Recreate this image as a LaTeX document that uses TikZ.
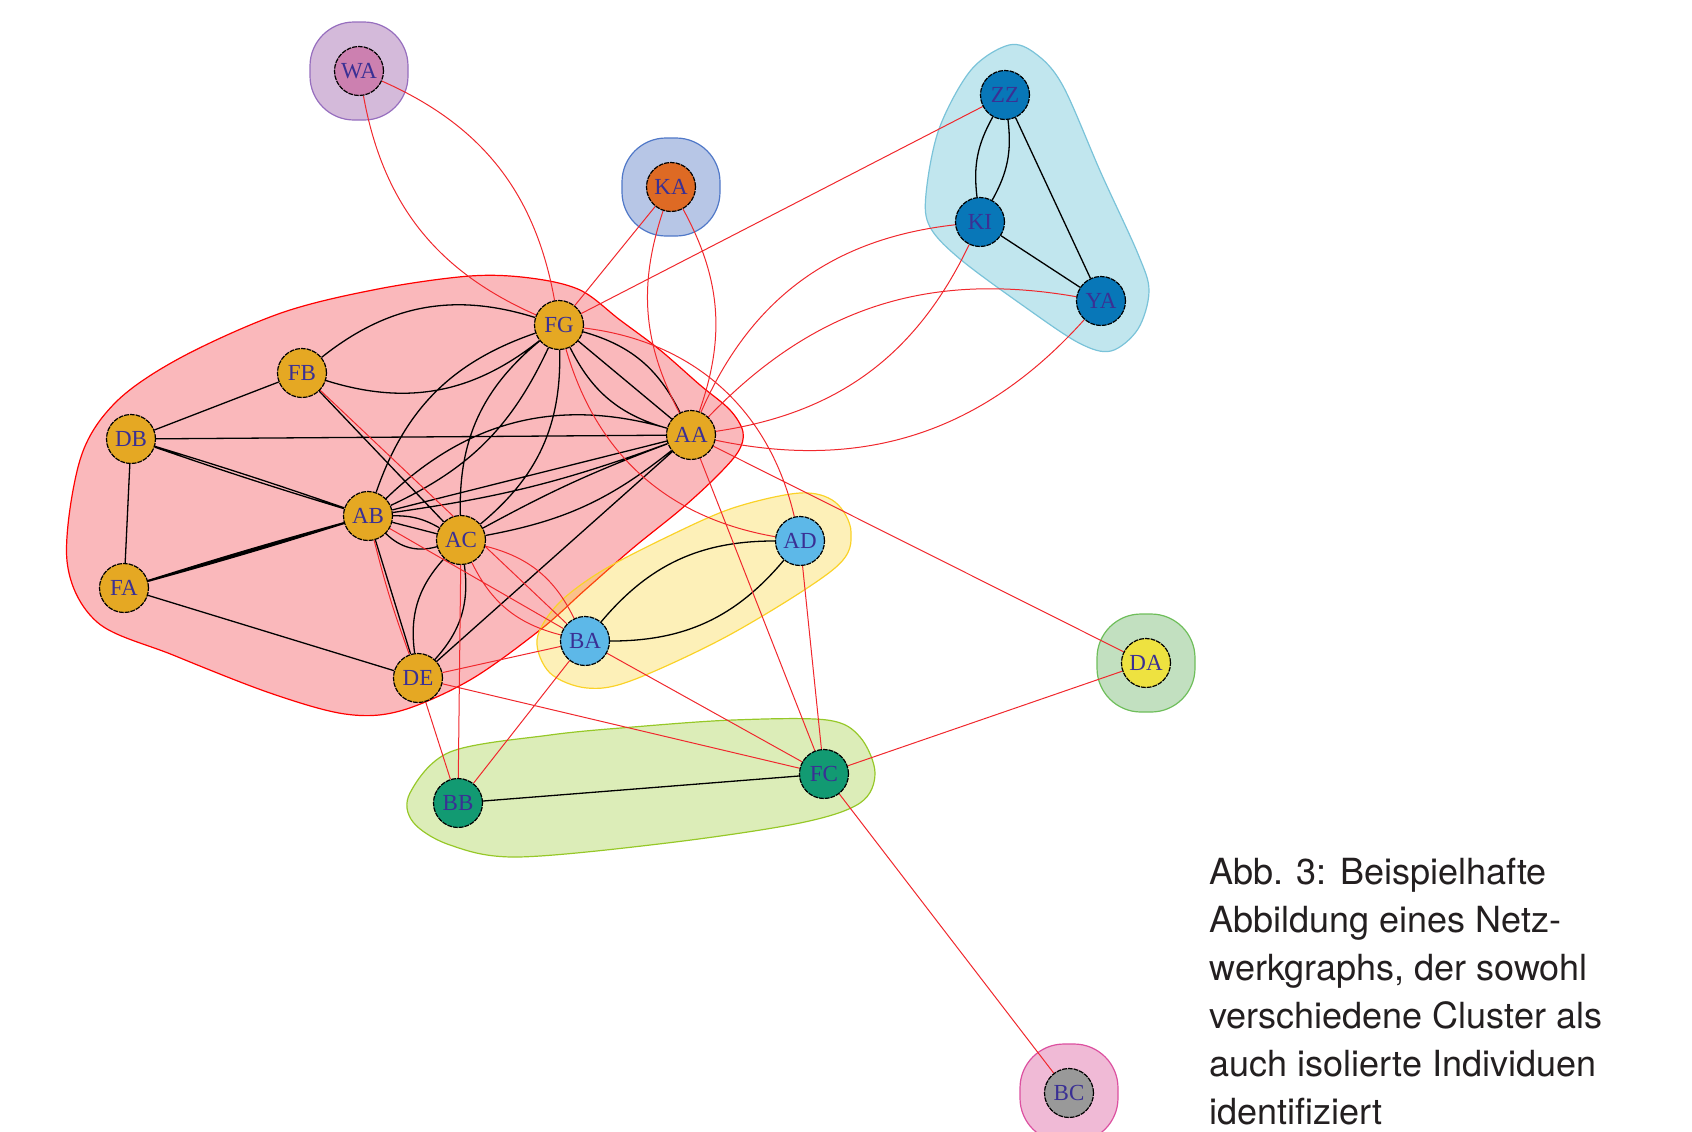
\documentclass[tikz,border=0pt]{standalone}
\usepackage{fontspec}
\setmainfont{Liberation Serif}
\newfontfamily\capfont{TeX Gyre Heros}
\usetikzlibrary{backgrounds}
\definecolor{gold}{RGB}{229,168,35}
\definecolor{sky}{RGB}{93,184,232}
\definecolor{teal}{RGB}{18,154,114}
\definecolor{navy}{RGB}{8,119,184}
\definecolor{wapink}{RGB}{204,128,176}
\definecolor{kaorange}{RGB}{222,106,36}
\definecolor{dayellow}{RGB}{238,226,64}
\definecolor{bcgray}{RGB}{153,153,153}
\definecolor{lbl}{RGB}{58,48,148}
\definecolor{netred}{RGB}{240,40,45}
\definecolor{hullred}{RGB}{240,40,50}
\definecolor{hullyel}{RGB}{250,210,40}
\definecolor{hullgrn}{RGB}{150,200,40}
\definecolor{hullcyan}{RGB}{193,230,238}
\definecolor{captxt}{RGB}{35,31,32}
\begin{document}
\begin{tikzpicture}[x=.5pt,y=-.5pt,
	pers/.style={circle,draw=black,line width=.6pt,dash pattern=on 2.4pt off .5pt,minimum size=24.5pt,inner sep=0pt,font=\fontsize{11.5}{12}\selectfont,text=lbl},
	tie/.style={black,line width=.65pt},
	link/.style={netred,line width=.5pt},
	halo/.style={line width=.6pt,rounded corners=22pt},
	hull/.style={line width=.6pt,fill opacity=.33}]
	\useasboundingbox (0,0) rectangle (1692,1131);
	\foreach \n/\x/\y/\c in {WA/359/71/wapink,KA/671/187/kaorange,ZZ/1005/95/navy,KI/980/222/navy,YA/1101/301/navy,
		FG/559/325/gold,FB/302/373/gold,DB/131/439/gold,AA/691/435/gold,AB/368/516/gold,AC/461/540/gold,FA/124/588/gold,DE/418/678/gold,
		AD/800/541/sky,BA/585/641/sky,DA/1146/663/dayellow,FC/824/774/teal,BB/458/803/teal,BC/1069/1093/bcgray}
		\node[pers,fill=\c] (\n) at (\x,\y) {\n};%Personen
	\begin{scope}[on background layer]
		\draw[hull,draw=red,fill=hullred] plot[smooth cycle,tension=.55] coordinates {(67,561) (80,460) (115,403) (180,358) (281,313) (378,289) (470,276) (530,278) (580,290) (620,320) (660,350) (700,385) (730,410) (743,432) (738,452) (715,478) (680,510) (633,548) (585,590) (540,630) (470,680) (400,711) (345,714) (270,693) (173,655) (97,622)};%Cluster rot
		\draw[hull,draw=hullyel,fill=hullyel] plot[smooth cycle,tension=.55] coordinates {(537,640) (557,605) (600,572) (667,537) (733,508) (800,493) (835,502) (851,532) (835,568) (733,633) (633,680) (587,688) (550,673)};%Cluster gelb
		\draw[hull,draw=hullgrn,fill=hullgrn] plot[smooth cycle,tension=.55] coordinates {(410,793) (450,752) (550,735) (633,727) (733,720) (827,720) (860,737) (875,773) (860,803) (800,823) (667,843) (517,857) (450,845) (413,822)};%Cluster gruen
		\draw[line width=.6pt,draw=cyan!55!teal!60,fill=hullcyan] plot[smooth cycle,tension=.55] coordinates {(1009,45) (971,70) (939,129) (926,194) (930,227) (960,259) (1025,307) (1079,343) (1111,351) (1138,329) (1149,291) (1138,254) (1101,173) (1063,86) (1036,54)};%Cluster blau
		\foreach \n/\f/\d in {WA/{212,186,218}/{150,110,190},KA/{183,198,230}/{80,120,200},DA/{194,224,192}/{110,190,90},BC/{240,186,214}/{220,80,160}}{
			\definecolor{hf}{RGB}{\f}\definecolor{hd}{RGB}{\d}
			\draw[halo,fill=hf,draw=hd] (\n.center) +(-49,-49) rectangle +(49,49);}%Einzelne
		% schwarze Kanten
		\draw[tie] (FB)--(DB) (DB)--(FA) (DB)--(AA) (FA)--(DE) (FB)--(AC) (AA)--(DE) (AB)--(DE) (BB)--(FC)
		(DB) to[bend left=1] (AB) (DB) to[bend right=1] (AB)
		(FA) to[bend left=1] (AB) (FA)--(AB) (FA) to[bend right=1] (AB)
		(FB) to[bend left=28] (FG) (FB) to[bend right=28] (FG)
		(AB) to[bend left=26] (FG) (AB) to[bend right=20] (FG)
		(AC) to[bend left=26] (FG) (AC) to[bend right=26] (FG)
		(FG) to[bend right=24] (AA) (FG)--(AA) (FG) to[bend left=24] (AA)
		(AB) to[bend left=30] (AA) (AB)--(AA) (AB) to[bend right=6] (AA)
		(AC) to[bend left=4] (AA) (AC) to[bend right=14] (AA)
		(AB) to[bend left=15] (AC) (AB)--(AC) (AB) to[bend right=30] (AC)
		(AC) to[bend left=25] (DE) (AC) to[bend right=25] (DE)
		(ZZ) to[bend left=18] (KI) (ZZ) to[bend right=18] (KI) (ZZ)--(YA) (KI)--(YA)
		(BA) to[bend left=25] (AD) (BA) to[bend right=25] (AD);
		% rote Kanten
		\draw[link] (WA) to[bend left=28] (FG) (WA) to[bend right=28] (FG)
		(KA)--(FG) (KA) to[bend left=24] (AA) (KA) to[bend right=23] (AA) (ZZ)--(FG)
		(KI) to[bend left=28] (AA) (KI) to[bend right=30] (AA)
		(YA) to[bend left=30] (AA) (YA) to[bend right=28] (AA)
		(AA)--(DA) (AA)--(FC) (FG) to[bend left=35] (AD) (FG) to[bend right=32] (AD) (AD)--(FC)
		(FB)--(BA) (AB)--(BA) (AC) to[bend left=25] (BA) (AC) to[bend right=25] (BA) (AB) to[bend right=3] (DE)
		(AC)--(BB) (DE)--(BA) (DE)--(BB) (DE)--(FC) (BA)--(BB) (BA)--(FC) (FC)--(DA) (FC)--(BC);
	\end{scope}
	\node[anchor=base west,align=left,inner sep=0pt,text=captxt,font=\capfont\fontsize{18}{24}\selectfont] (cap) at (1209,1124)
	{Abb. 3: Beispielhafte\\Abbildung eines Netz-\\werkgraphs, der sowohl\\verschiedene Cluster als\\auch isolierte Individuen\\identifiziert};%Bildunterschrift
\end{tikzpicture}
\end{document}
